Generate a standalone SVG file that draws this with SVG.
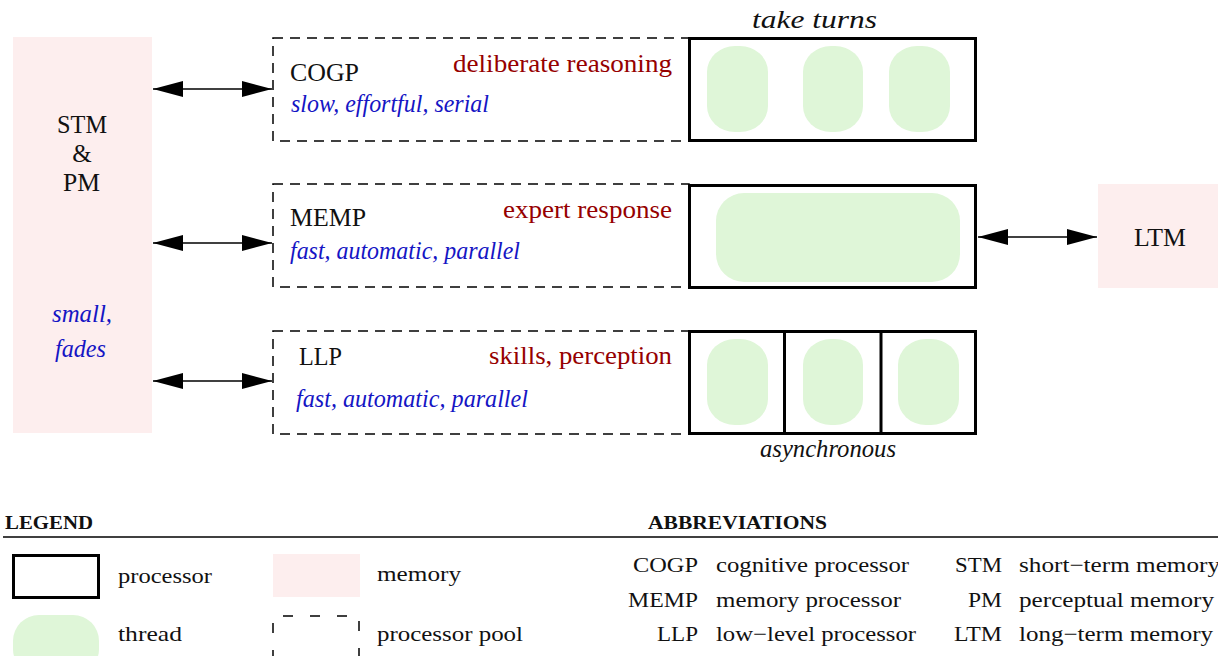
<svg xmlns="http://www.w3.org/2000/svg" width="1218" height="656" viewBox="0 0 1218 656">
  <style>
    text { font-family: "Liberation Serif", "Times New Roman", serif; font-size: 25px; fill: #111; }
    .it { font-style: italic; }
    .red { fill: #960000; }
    .blue { fill: #1515c4; }
    .sm { font-size: 21px; }
    .head { font-size: 18px; font-weight: bold; }
    .mem { fill: #fdeeee; }
    .thread { fill: #dff6d8; }
    .proc { fill: none; stroke: #000; stroke-width: 3; }
    .pool { fill: none; stroke: #000; stroke-width: 1.5; stroke-dasharray: 10 7; }
    .link { stroke: #000; stroke-width: 1.6; fill: none; marker-start: url(#ah); marker-end: url(#ah); }
  </style>
  <defs>
    <marker id="ah" viewBox="0 0 30 16" refX="30" refY="8" markerWidth="30" markerHeight="16" markerUnits="userSpaceOnUse" orient="auto-start-reverse">
      <path d="M0,0 L30,8 L0,16 z" fill="#000"/>
    </marker>
  </defs>

  <!-- short-term and perceptual memory -->
  <g id="stm">
    <rect class="mem" x="13" y="37" width="139" height="396"/>
    <text x="57" y="133" textLength="50" lengthAdjust="spacingAndGlyphs">STM</text>
    <text x="82" y="162" text-anchor="middle">&amp;</text>
    <text x="63" y="191" textLength="37" lengthAdjust="spacingAndGlyphs">PM</text>
    <text class="it blue" x="52" y="322" textLength="60" lengthAdjust="spacingAndGlyphs">small,</text>
    <text class="it blue" x="55" y="357" textLength="51" lengthAdjust="spacingAndGlyphs">fades</text>
  </g>

  <!-- cognitive processor pool -->
  <g id="cogp">
    <rect class="pool" x="273" y="38" width="416" height="103"/>
    <text x="290" y="81" textLength="69" lengthAdjust="spacingAndGlyphs">COGP</text>
    <text class="red" x="453" y="72" textLength="219" lengthAdjust="spacingAndGlyphs">deliberate reasoning</text>
    <text class="it blue" x="291" y="112" textLength="198" lengthAdjust="spacingAndGlyphs">slow, effortful, serial</text>
  </g>
  <g id="cogp-proc">
    <rect class="proc" x="689.5" y="38.5" width="286" height="102"/>
    <rect class="thread" x="707" y="46" width="61" height="86" rx="28" ry="26"/>
    <rect class="thread" x="803" y="46" width="60" height="86" rx="28" ry="26"/>
    <rect class="thread" x="889" y="46" width="61" height="86" rx="28" ry="26"/>
    <text class="it" x="752" y="28" font-size="23" textLength="125" lengthAdjust="spacingAndGlyphs">take turns</text>
  </g>

  <!-- memory processor pool -->
  <g id="memp">
    <rect class="pool" x="273" y="184" width="416" height="103"/>
    <text x="290" y="226" textLength="76" lengthAdjust="spacingAndGlyphs">MEMP</text>
    <text class="red" x="503" y="218" textLength="169" lengthAdjust="spacingAndGlyphs">expert response</text>
    <text class="it blue" x="290" y="259" textLength="230" lengthAdjust="spacingAndGlyphs">fast, automatic, parallel</text>
  </g>
  <g id="memp-proc">
    <rect class="proc" x="689.5" y="185.5" width="286" height="102"/>
    <rect class="thread" x="716" y="193" width="244" height="89" rx="28" ry="28"/>
  </g>

  <!-- low-level processor pool -->
  <g id="llp">
    <rect class="pool" x="273" y="331" width="416" height="103"/>
    <text x="299" y="365" textLength="43" lengthAdjust="spacingAndGlyphs">LLP</text>
    <text class="red" x="489" y="364" textLength="183" lengthAdjust="spacingAndGlyphs">skills, perception</text>
    <text class="it blue" x="296" y="407" textLength="232" lengthAdjust="spacingAndGlyphs">fast, automatic, parallel</text>
  </g>
  <g id="llp-proc">
    <rect class="proc" x="689.5" y="331.5" width="286" height="102"/>
    <line x1="784.5" y1="331.5" x2="784.5" y2="433.5" stroke="#000" stroke-width="3"/>
    <line x1="881" y1="331.5" x2="881" y2="433.5" stroke="#000" stroke-width="3"/>
    <rect class="thread" x="707" y="339" width="61" height="86" rx="28" ry="26"/>
    <rect class="thread" x="803" y="339" width="60" height="86" rx="28" ry="26"/>
    <rect class="thread" x="898" y="339" width="61" height="86" rx="28" ry="26"/>
    <text class="it" x="760" y="457" font-size="23" textLength="136" lengthAdjust="spacingAndGlyphs">asynchronous</text>
  </g>

  <!-- long-term memory -->
  <g id="ltm">
    <rect class="mem" x="1098" y="184" width="120" height="104"/>
    <text x="1134" y="246" textLength="52" lengthAdjust="spacingAndGlyphs">LTM</text>
  </g>

  <!-- two-way links between memories and processors -->
  <g id="connectors">
    <line class="link" x1="153" y1="89" x2="272" y2="89"/>
    <line class="link" x1="153" y1="243" x2="272" y2="243"/>
    <line class="link" x1="153" y1="381" x2="272" y2="381"/>
    <line class="link" x1="978" y1="237" x2="1097" y2="237"/>
  </g>

  <!-- legend -->
  <g id="legend">
    <text class="head" x="5" y="529" textLength="88" lengthAdjust="spacingAndGlyphs">LEGEND</text>
    <line x1="3" y1="537" x2="1218" y2="537" stroke="#000" stroke-width="1.3"/>
    <rect class="proc" x="13.5" y="555.5" width="85" height="42"/>
    <text class="sm" x="118" y="583" textLength="94" lengthAdjust="spacingAndGlyphs">processor</text>
    <rect class="mem" x="273" y="554" width="87" height="43"/>
    <text class="sm" x="377" y="581" textLength="84" lengthAdjust="spacingAndGlyphs">memory</text>
    <rect class="thread" x="13" y="615" width="86" height="60" rx="26" ry="26"/>
    <text class="sm" x="118" y="641" textLength="64" lengthAdjust="spacingAndGlyphs">thread</text>
    <path d="M273,660 V616 H359 V660" fill="none" stroke="#000" stroke-width="1.5" stroke-dasharray="10 17"/>
    <text class="sm" x="377" y="641" textLength="146" lengthAdjust="spacingAndGlyphs">processor pool</text>
  </g>

  <!-- abbreviations -->
  <g id="abbreviations">
    <text class="head" x="648" y="529" textLength="179" lengthAdjust="spacingAndGlyphs">ABBREVIATIONS</text>
    <text class="sm" x="633" y="572" textLength="65" lengthAdjust="spacingAndGlyphs">COGP</text>
    <text class="sm" x="716" y="572" textLength="193" lengthAdjust="spacingAndGlyphs">cognitive processor</text>
    <text class="sm" x="628" y="607" textLength="70" lengthAdjust="spacingAndGlyphs">MEMP</text>
    <text class="sm" x="716" y="607" textLength="185" lengthAdjust="spacingAndGlyphs">memory processor</text>
    <text class="sm" x="657" y="641" textLength="41" lengthAdjust="spacingAndGlyphs">LLP</text>
    <text class="sm" x="716" y="641" textLength="200" lengthAdjust="spacingAndGlyphs">low−level processor</text>
    <text class="sm" x="955" y="572" textLength="47" lengthAdjust="spacingAndGlyphs">STM</text>
    <text class="sm" x="1019" y="572" textLength="201" lengthAdjust="spacingAndGlyphs">short−term memory</text>
    <text class="sm" x="968" y="607" textLength="34" lengthAdjust="spacingAndGlyphs">PM</text>
    <text class="sm" x="1019" y="607" textLength="195" lengthAdjust="spacingAndGlyphs">perceptual memory</text>
    <text class="sm" x="954" y="641" textLength="48" lengthAdjust="spacingAndGlyphs">LTM</text>
    <text class="sm" x="1019" y="641" textLength="194" lengthAdjust="spacingAndGlyphs">long−term memory</text>
  </g>
</svg>
